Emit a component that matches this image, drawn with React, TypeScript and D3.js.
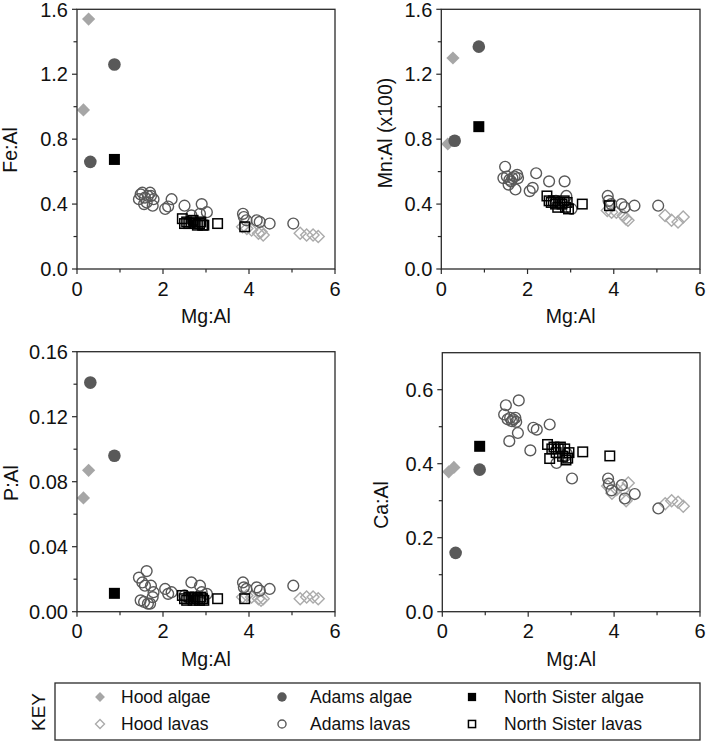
import React from "react";
import * as d3 from "d3";

// ---------- DATA ----------
const hoodAlgaeX = [0.15, 0.27];
const hoodAlgaeFe = [0.98, 1.54];
const hoodAlgaeMn = [0.77, 1.3];
const hoodAlgaeP = [0.07, 0.087];
const hoodAlgaeCa = [0.378, 0.39];

const adamsAlgaeX = [0.31, 0.87];
const adamsAlgaeFe = [0.66, 1.26];
const adamsAlgaeMn = [0.79, 1.37];
const adamsAlgaeP = [0.141, 0.096];
const adamsAlgaeCa = [0.159, 0.384];

const nsAlgaeX = [0.87];
const nsAlgaeFe = [0.675];
const nsAlgaeMn = [0.877];
const nsAlgaeP = [0.0113];
const nsAlgaeCa = [0.447];

const hoodLavaX = [3.85, 3.95, 4.06, 4.22, 4.28, 4.33, 5.19, 5.34, 5.49, 5.61];
const hoodLavaFe = [0.26, 0.25, 0.24, 0.22, 0.23, 0.21, 0.22, 0.21, 0.21, 0.2];
const hoodLavaMn = [0.36, 0.35, 0.35, 0.33, 0.31, 0.3, 0.33, 0.3, 0.29, 0.32];
const hoodLavaP = [0.009, 0.01, 0.009, 0.008, 0.007, 0.008, 0.008, 0.009, 0.009, 0.008];
const hoodLavaCa = [0.34, 0.32, 0.33, 0.33, 0.3, 0.348, 0.292, 0.3, 0.296, 0.285];

const adamsLavaX = [1.44, 1.48, 1.52, 1.56, 1.58, 1.62, 1.65, 1.7, 1.72, 1.76, 1.78, 2.05, 2.12, 2.2, 2.5, 2.66, 2.86, 2.9, 3.02, 3.86, 3.88, 3.94, 4.18, 4.25, 4.48, 5.03];
const adamsLavaFe = [0.43, 0.46, 0.47, 0.4, 0.44, 0.41, 0.45, 0.47, 0.45, 0.39, 0.43, 0.37, 0.385, 0.43, 0.39, 0.33, 0.34, 0.4, 0.35, 0.34, 0.32, 0.3, 0.3, 0.29, 0.28, 0.28];
const adamsLavaMn = [0.56, 0.63, 0.57, 0.52, 0.55, 0.54, 0.56, 0.57, 0.49, 0.58, 0.56, 0.48, 0.5, 0.59, 0.54, 0.42, 0.54, 0.45, 0.37, 0.45, 0.42, 0.4, 0.4, 0.38, 0.39, 0.39];
const adamsLavaP = [0.021, 0.007, 0.018, 0.006, 0.016, 0.025, 0.005, 0.005, 0.016, 0.009, 0.012, 0.014, 0.011, 0.012, 0.01, 0.018, 0.016, 0.012, 0.011, 0.018, 0.015, 0.014, 0.015, 0.013, 0.014, 0.016];
const adamsLavaCa = [0.533, 0.558, 0.52, 0.461, 0.524, 0.515, 0.52, 0.524, 0.513, 0.483, 0.571, 0.436, 0.497, 0.492, 0.506, 0.402, 0.42, 0.427, 0.36, 0.36, 0.346, 0.328, 0.342, 0.306, 0.318, 0.279];

const nsLavaX = [2.45, 2.5, 2.55, 2.6, 2.65, 2.7, 2.75, 2.8, 2.85, 2.88, 2.92, 2.95, 3.27, 3.9];
const nsLavaFe = [0.31, 0.28, 0.29, 0.28, 0.29, 0.3, 0.28, 0.27, 0.28, 0.29, 0.27, 0.27, 0.28, 0.26];
const nsLavaMn = [0.45, 0.42, 0.41, 0.42, 0.4, 0.38, 0.41, 0.4, 0.42, 0.38, 0.41, 0.37, 0.4, 0.39];
const nsLavaP = [0.01, 0.008, 0.007, 0.009, 0.008, 0.007, 0.009, 0.008, 0.007, 0.009, 0.008, 0.007, 0.008, 0.008];
const nsLavaCa = [0.452, 0.414, 0.44, 0.445, 0.43, 0.44, 0.445, 0.42, 0.44, 0.41, 0.415, 0.43, 0.432, 0.421];

const xTicks = [0, 2, 4, 6];
const xMinor = [1, 3, 5];

const legendLabels = ["Hood algae", "Hood lavas", "Adams algae", "Adams lavas", "North Sister algae", "North Sister lavas"];

// ---------- STYLE ----------
const FONT = "'Liberation Sans', Arial, sans-serif";
const AXIS = "#2a2a2a";
const HOOD = "#a6a6a6";
const HOODL = "#ababab";
const ADAMS = "#595959";
const NS = "#000";

type Marker = "hoodAlgae" | "hoodLava" | "adamsAlgae" | "adamsLava" | "nsAlgae" | "nsLava";

function MarkerShape({ kind, cx, cy, scale = 1 }: { kind: Marker; cx: number; cy: number; scale?: number }) {
  const s = scale;
  switch (kind) {
    case "hoodAlgae": {
      const h = 6.6 * s;
      return <path d={`M${cx},${cy - h}L${cx + h},${cy}L${cx},${cy + h}L${cx - h},${cy}Z`} fill={HOOD} stroke="none" />;
    }
    case "hoodLava": {
      const h = 6 * s;
      return <path d={`M${cx},${cy - h}L${cx + h},${cy}L${cx},${cy + h}L${cx - h},${cy}Z`} fill="none" stroke={HOODL} strokeWidth={1.4} />;
    }
    case "adamsAlgae":
      return <circle cx={cx} cy={cy} r={6.3 * s} fill={ADAMS} />;
    case "adamsLava":
      return <circle cx={cx} cy={cy} r={5.4 * s} fill="none" stroke={ADAMS} strokeWidth={1.4} />;
    case "nsAlgae": {
      const a = 11 * s;
      return <rect x={cx - a / 2} y={cy - a / 2} width={a} height={a} fill={NS} />;
    }
    case "nsLava": {
      const a = 9.5 * s;
      return <rect x={cx - a / 2} y={cy - a / 2} width={a} height={a} fill="none" stroke={NS} strokeWidth={1.5} />;
    }
  }
  return null;
}

type Series = { kind: Marker; x: number[]; y: number[] };

type PanelProps = {
  left: number; right: number; top: number; bottom: number;
  yMax: number; yTicks: number[]; yMinor: number[]; fmt: string;
  yLabel: string; yLabelX: number; yLabelY: number;
  series: Series[];
};

function Panel(p: PanelProps) {
  const x = d3.scaleLinear().domain([0, 6]).range([p.left, p.right]);
  const y = d3.scaleLinear().domain([0, p.yMax]).range([p.bottom, p.top]);
  const f = d3.format(p.fmt);
  return (
    <g>
      {p.series.map((s, si) => (
        <g key={si}>
          {s.x.map((xv, i) => (
            <MarkerShape key={i} kind={s.kind} cx={x(xv)} cy={y(s.y[i])} />
          ))}
        </g>
      ))}
      <rect x={p.left} y={p.top} width={p.right - p.left} height={p.bottom - p.top} fill="none" stroke={AXIS} strokeWidth={1.3} />
      {p.yTicks.map((t) => (
        <g key={"y" + t}>
          <line x1={p.left - 5} x2={p.left} y1={y(t)} y2={y(t)} stroke={AXIS} strokeWidth={1.2} />
          <text x={p.left - 9} y={y(t)} dy="0.36em" textAnchor="end" fontSize={20} fontFamily={FONT} fill="#111">{f(t)}</text>
        </g>
      ))}
      {p.yMinor.map((t) => (
        <line key={"ym" + t} x1={p.left - 3.5} x2={p.left} y1={y(t)} y2={y(t)} stroke={AXIS} strokeWidth={1.2} />
      ))}
      {xTicks.map((t) => (
        <g key={"x" + t}>
          <line x1={x(t)} x2={x(t)} y1={p.bottom} y2={p.bottom + 5} stroke={AXIS} strokeWidth={1.2} />
          <text x={x(t)} y={p.bottom + 26.5} textAnchor="middle" fontSize={20} fontFamily={FONT} fill="#111">{t}</text>
        </g>
      ))}
      {xMinor.map((t) => (
        <line key={"xm" + t} x1={x(t)} x2={x(t)} y1={p.bottom} y2={p.bottom + 3.5} stroke={AXIS} strokeWidth={1.2} />
      ))}
      <text x={(p.left + p.right) / 2} y={p.bottom + 54} textAnchor="middle" fontSize={19.5} fontFamily={FONT} fill="#111">Mg:Al</text>
      <text transform={`translate(${p.yLabelX},${p.yLabelY}) rotate(-90)`} textAnchor="middle" fontSize={19.5} fontFamily={FONT} fill="#111">{p.yLabel}</text>
    </g>
  );
}

export default function App() {
  const s1: Series[] = [
    { kind: "hoodLava", x: hoodLavaX, y: hoodLavaFe },
    { kind: "adamsLava", x: adamsLavaX, y: adamsLavaFe },
    { kind: "nsLava", x: nsLavaX, y: nsLavaFe },
    { kind: "hoodAlgae", x: hoodAlgaeX, y: hoodAlgaeFe },
    { kind: "adamsAlgae", x: adamsAlgaeX, y: adamsAlgaeFe },
    { kind: "nsAlgae", x: nsAlgaeX, y: nsAlgaeFe },
  ];
  const s2: Series[] = [
    { kind: "hoodLava", x: hoodLavaX, y: hoodLavaMn },
    { kind: "adamsLava", x: adamsLavaX, y: adamsLavaMn },
    { kind: "nsLava", x: nsLavaX, y: nsLavaMn },
    { kind: "hoodAlgae", x: hoodAlgaeX, y: hoodAlgaeMn },
    { kind: "adamsAlgae", x: adamsAlgaeX, y: adamsAlgaeMn },
    { kind: "nsAlgae", x: nsAlgaeX, y: nsAlgaeMn },
  ];
  const s3: Series[] = [
    { kind: "hoodLava", x: hoodLavaX, y: hoodLavaP },
    { kind: "adamsLava", x: adamsLavaX, y: adamsLavaP },
    { kind: "nsLava", x: nsLavaX, y: nsLavaP },
    { kind: "hoodAlgae", x: hoodAlgaeX, y: hoodAlgaeP },
    { kind: "adamsAlgae", x: adamsAlgaeX, y: adamsAlgaeP },
    { kind: "nsAlgae", x: nsAlgaeX, y: nsAlgaeP },
  ];
  const s4: Series[] = [
    { kind: "hoodLava", x: hoodLavaX, y: hoodLavaCa },
    { kind: "adamsLava", x: adamsLavaX, y: adamsLavaCa },
    { kind: "nsLava", x: nsLavaX, y: nsLavaCa },
    { kind: "hoodAlgae", x: hoodAlgaeX, y: hoodAlgaeCa },
    { kind: "adamsAlgae", x: adamsAlgaeX, y: adamsAlgaeCa },
    { kind: "nsAlgae", x: nsAlgaeX, y: nsAlgaeCa },
  ];

  const legendKinds: Marker[] = ["hoodAlgae", "hoodLava", "adamsAlgae", "adamsLava", "nsAlgae", "nsLava"];
  const colMarkerX = [100, 282, 472];
  const colTextX = [121, 310, 504];
  const rowY = [697, 724];

  return (
    <svg width={709} height={742} style={{ position: "absolute", left: 0, top: 0, background: "#fff" }}>
      <rect width={709} height={742} fill="#fff" />
      <Panel left={77} right={335} top={9.3} bottom={269} yMax={1.6}
        yTicks={[0, 0.4, 0.8, 1.2, 1.6]} yMinor={[0.2, 0.6, 1.0, 1.4]} fmt=".1f"
        yLabel="Fe:Al" yLabelX={17} yLabelY={150} series={s1} />
      <Panel left={441.3} right={700} top={9.3} bottom={269} yMax={1.6}
        yTicks={[0, 0.4, 0.8, 1.2, 1.6]} yMinor={[0.2, 0.6, 1.0, 1.4]} fmt=".1f"
        yLabel="Mn:Al (x100)" yLabelX={392} yLabelY={133} series={s2} />
      <Panel left={77} right={335} top={351.7} bottom={611.7} yMax={0.16}
        yTicks={[0, 0.04, 0.08, 0.12, 0.16]} yMinor={[0.02, 0.06, 0.1, 0.14]} fmt=".2f"
        yLabel="P:Al" yLabelX={18} yLabelY={483} series={s3} />
      <Panel left={442.3} right={700} top={352.7} bottom={611.7} yMax={0.7}
        yTicks={[0, 0.2, 0.4, 0.6]} yMinor={[0.1, 0.3, 0.5]} fmt=".1f"
        yLabel="Ca:Al" yLabelX={388} yLabelY={505} series={s4} />

      {/* Legend */}
      <rect x={55} y={683} width={645} height={57} fill="none" stroke={AXIS} strokeWidth={1.3} />
      <text transform="translate(45,712) rotate(-90)" textAnchor="middle" fontSize={19} fontFamily={FONT} fill="#111">KEY</text>
      {legendKinds.map((k, i) => {
        const col = Math.floor(i / 2);
        const row = i % 2;
        return (
          <g key={k}>
            <MarkerShape kind={k} cx={colMarkerX[col]} cy={rowY[row]} scale={0.75} />
            <text x={colTextX[col]} y={rowY[row]} dy="0.36em" fontSize={17.5} fontFamily={FONT} fill="#111">{legendLabels[i]}</text>
          </g>
        );
      })}
    </svg>
  );
}
